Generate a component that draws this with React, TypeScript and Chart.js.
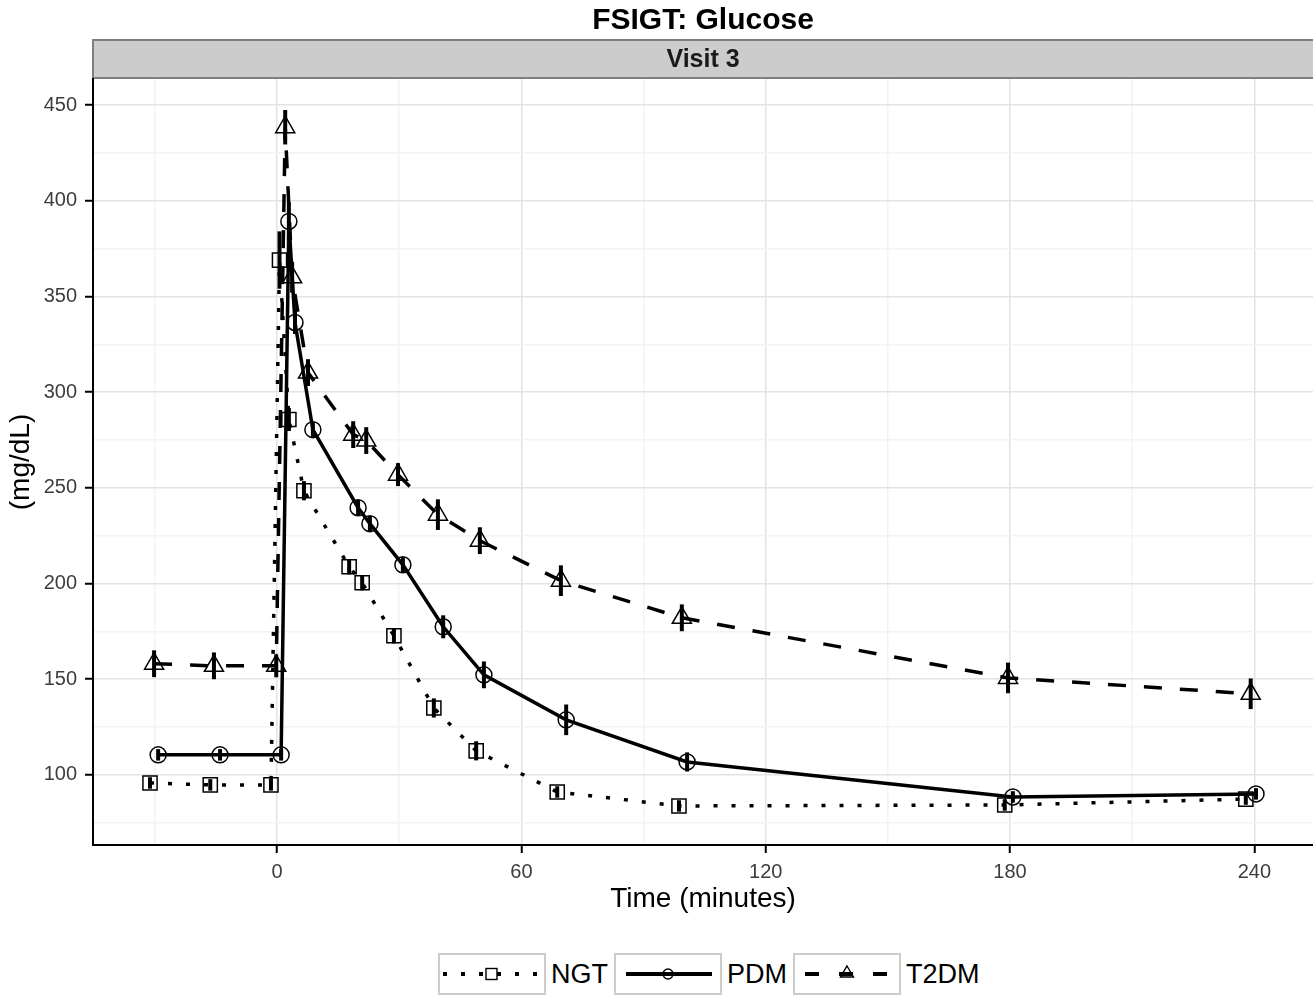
import React, { useEffect, useRef } from 'react';
import { Chart, registerables } from 'chart.js';

Chart.register(...registerables);

const FONT = '"Liberation Sans", Arial, sans-serif';

const chartTitle = 'FSIGT: Glucose';
const panelLabel = 'Visit 3';
const xTitle = 'Time (minutes)';
const yTitle = '(mg/dL)';
// labelled (major) ticks and all grid lines (major + minor)
const xLabels = [0, 60, 120, 180, 240];
const xGrid = [-30, 0, 30, 60, 90, 120, 150, 180, 210, 240];
const yLabels = [100, 150, 200, 250, 300, 350, 400, 450];
const yGrid = [75, 100, 125, 150, 175, 200, 225, 250, 275, 300, 325, 350, 375, 400, 425, 450];

const groups = ['NGT', 'PDM', 'T2DM'];

// NGT (squares, dotted)
const ngtTime = [-31.2, -16.4, -1.5, 0.6, 2.9, 6.6, 17.7, 20.9, 28.7, 38.5, 48.9, 68.8, 98.7, 178.7, 237.9];
const ngtMean = [95.8, 94.8, 94.8, 369, 285.7, 248.5, 208.8, 200.4, 172.7, 135, 112.6, 91.1, 83.8, 84.3, 87.4];
const ngtSe = [3, 3, 3, 15, 6, 5, 4, 4, 4, 5, 5, 3, 3, 3, 3];

// PDM (circles, solid)
const pdmTime = [-29.2, -14, 1, 2.9, 4.4, 8.8, 19.9, 22.8, 30.9, 40.8, 50.8, 71, 100.7, 180.7, 240.4];
const pdmMean = [110.5, 110.5, 110.5, 389.2, 336.4, 280.4, 239.6, 231.3, 209.8, 177.4, 152.3, 128.8, 106.8, 88.5, 90.1];
const pdmSe = [3, 3, 3, 10, 6, 4, 4, 4, 4, 6, 7, 8, 5, 3, 3];

// T2DM (triangles, dashed)
const t2dmTime = [-30.2, -15.5, -0.2, 2.0, 3.7, 7.6, 18.7, 21.9, 29.7, 39.5, 49.8, 69.7, 99.4, 179.5, 239.1];
const t2dmMean = [158.1, 157, 157, 438.4, 360, 310.2, 277.8, 274.7, 256.9, 236, 222.4, 201.5, 182.1, 150.7, 142.4];
const t2dmSe = [7, 7, 6, 9, 8, 7, 7, 7, 6, 8, 7, 8, 7, 8, 8];

const seriesSe = [ngtSe, pdmSe, t2dmSe];

const toPoints = (xs: number[], ys: number[]) => xs.map((x, i) => ({ x, y: ys[i] }));

const errorBarPlugin = {
    id: 'errorBars',
    afterDatasetsDraw(chart: any) {
        const { ctx, chartArea, scales } = chart;
        ctx.save();
        ctx.beginPath();
        ctx.rect(chartArea.left, chartArea.top, chartArea.right - chartArea.left, chartArea.bottom - chartArea.top);
        ctx.clip();
        ctx.strokeStyle = '#000';
        ctx.lineWidth = 4;
        chart.data.datasets.forEach((ds: any, i: number) => {
            const meta = chart.getDatasetMeta(i);
            const se = seriesSe[i];
            meta.data.forEach((pt: any, j: number) => {
                const v = ds.data[j].y;
                ctx.beginPath();
                ctx.moveTo(pt.x, scales.y.getPixelForValue(v - se[j]));
                ctx.lineTo(pt.x, scales.y.getPixelForValue(v + se[j]));
                ctx.stroke();
            });
        });
        ctx.restore();
    }
};

const stripPlugin = {
    id: 'strip',
    beforeDraw(chart: any) {
        const { ctx, chartArea } = chart;
        const cx = (chartArea.left + chartArea.right) / 2;
        ctx.save();
        ctx.fillStyle = '#cccccc';
        ctx.fillRect(chartArea.left, 40, chartArea.right - chartArea.left + 20, 38);
        ctx.strokeStyle = '#7f7f7f';
        ctx.lineWidth = 2;
        ctx.strokeRect(chartArea.left, 40, chartArea.right - chartArea.left + 20, 38);
        ctx.fillStyle = '#1a1a1a';
        ctx.textAlign = 'center';
        ctx.textBaseline = 'middle';
        ctx.font = `bold 25px ${FONT}`;
        ctx.fillText(panelLabel, cx, 60);
        ctx.fillStyle = '#000';
        ctx.font = `bold 30px ${FONT}`;
        ctx.fillText(chartTitle, cx, 21);
        ctx.restore();
    }
};

function LegendKey(props: { kind: string }) {
    const { kind } = props;
    return (
        <svg width={104} height={38} style={{ display: 'block' }}>
            {kind === 'NGT' && (
                <g>
                    <line x1={3} y1={19} x2={101} y2={19} stroke="#000" strokeWidth={4} strokeDasharray="4 14" />
                    <rect x={46} y={13.5} width={11} height={11} fill="none" stroke="#000" strokeWidth={1.4} />
                </g>
            )}
            {kind === 'PDM' && (
                <g>
                    <line x1={10} y1={19} x2={96} y2={19} stroke="#000" strokeWidth={4} />
                    <circle cx={52} cy={19} r={5} fill="none" stroke="#000" strokeWidth={1.4} />
                </g>
            )}
            {kind === 'T2DM' && (
                <g>
                    <line x1={10} y1={19} x2={96} y2={19} stroke="#000" strokeWidth={4} strokeDasharray="14 20" />
                    <polygon points="52,11 58.5,22 45.5,22" fill="none" stroke="#000" strokeWidth={1.4} />
                </g>
            )}
        </svg>
    );
}

export default function App() {
    const canvas = useRef<HTMLCanvasElement>(null);

    useEffect(() => {
        Chart.defaults.font.family = FONT;
        const base = {
            borderColor: '#000',
            borderWidth: 3.5,
            tension: 0,
            pointBorderColor: '#000',
            pointBackgroundColor: 'rgba(0,0,0,0)',
            pointBorderWidth: 1.5,
            fill: false
        };
        const gridColor = (labels: number[]) => (c: any) =>
            labels.includes(c.tick?.value) ? '#e3e3e3' : '#f3f3f3';
        const tickColor = (labels: number[]) => (c: any) =>
            labels.includes(c.tick?.value) ? '#000' : 'rgba(0,0,0,0)';
        const chart = new Chart(canvas.current as HTMLCanvasElement, {
            type: 'line',
            data: {
                datasets: [
                    {
                        ...base,
                        label: groups[0],
                        data: toPoints(ngtTime, ngtMean),
                        borderDash: [4, 14],
                        pointStyle: 'rect',
                        pointRadius: 10
                    },
                    {
                        ...base,
                        label: groups[1],
                        data: toPoints(pdmTime, pdmMean),
                        pointStyle: 'circle',
                        pointRadius: 8
                    },
                    {
                        ...base,
                        label: groups[2],
                        data: toPoints(t2dmTime, t2dmMean),
                        borderDash: [18, 18],
                        pointStyle: 'triangle',
                        pointRadius: 11
                    }
                ] as any
            },
            options: {
                animation: false,
                responsive: false,
                layout: { autoPadding: false, padding: { top: 79, left: 0, right: 0, bottom: 0 } },
                plugins: {
                    legend: { display: false },
                    tooltip: { enabled: false }
                },
                scales: {
                    x: {
                        type: 'linear',
                        min: -45.2,
                        max: 254.4,
                        afterFit: (s: any) => { s.height = 75; },
                        afterBuildTicks: (s: any) => { s.ticks = xGrid.map((value) => ({ value })); },
                        ticks: {
                            autoSkip: false,
                            maxRotation: 0,
                            padding: 7,
                            color: '#3d3d3d',
                            font: { size: 20 },
                            callback: (v: any) => (xLabels.includes(v) ? String(v) : '')
                        },
                        grid: {
                            color: gridColor(xLabels),
                            lineWidth: 1.5,
                            tickLength: 8,
                            tickWidth: 2,
                            tickColor: tickColor(xLabels)
                        },
                        border: { color: '#000', width: 2 },
                        title: {
                            display: true,
                            text: xTitle,
                            color: '#000',
                            font: { size: 28 },
                            padding: { top: 0, bottom: 4 }
                        }
                    },
                    y: {
                        type: 'linear',
                        min: 63.4,
                        max: 463.6,
                        afterFit: (s: any) => { s.width = 93; },
                        afterBuildTicks: (s: any) => { s.ticks = yGrid.map((value) => ({ value })); },
                        ticks: {
                            autoSkip: false,
                            padding: 8,
                            color: '#3d3d3d',
                            font: { size: 20 },
                            callback: (v: any) => (yLabels.includes(v) ? String(v) : '')
                        },
                        grid: {
                            color: gridColor(yLabels),
                            lineWidth: 1.5,
                            tickLength: 8,
                            tickWidth: 2,
                            tickColor: tickColor(yLabels)
                        },
                        border: { color: '#000', width: 2 },
                        title: {
                            display: true,
                            text: yTitle,
                            color: '#000',
                            font: { size: 28 },
                            padding: { top: 4, bottom: 0 }
                        }
                    }
                }
            },
            plugins: [stripPlugin, errorBarPlugin]
        });
        return () => {
            chart.destroy();
        };
    }, []);

    return (
        <div style={{ position: 'absolute', left: 0, top: 0, width: 1313, height: 996, background: '#fff' }}>
            <canvas ref={canvas} width={1313} height={920} style={{ display: 'block', width: 1313, height: 920 }} />
            <div
                style={{
                    position: 'absolute',
                    left: 438,
                    top: 953,
                    display: 'flex',
                    alignItems: 'center',
                    fontFamily: FONT,
                    fontSize: 27,
                    color: '#000'
                }}
            >
                {groups.map((g) => (
                    <div key={g} style={{ display: 'flex', alignItems: 'center', marginRight: 6 }}>
                        <div style={{ border: '2px solid #cccccc', background: '#fff' }}>
                            <LegendKey kind={g} />
                        </div>
                        <span style={{ marginLeft: 5 }}>{g}</span>
                    </div>
                ))}
            </div>
        </div>
    );
}
